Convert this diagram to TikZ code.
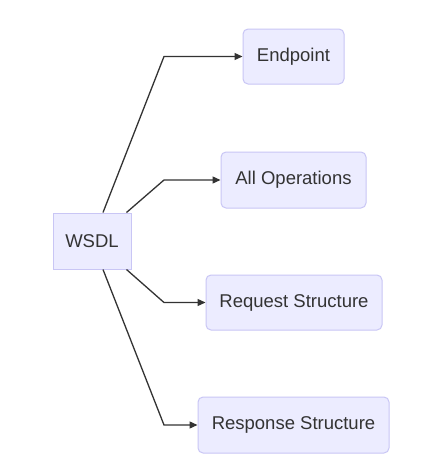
\documentclass[tikz,border=0pt]{standalone}
\usepackage{fontspec}
\setmainfont{Liberation Sans}
\usetikzlibrary{arrows.meta,calc}
\definecolor{boxfill}{HTML}{ECECFF}
\definecolor{boxline}{HTML}{C9C6F5}
\definecolor{ink}{HTML}{333333}
\begin{document}
\begin{tikzpicture}[x=1pt,y=-1pt,
  box/.style={draw=boxline, fill=boxfill, line width=1pt, text=ink,
    font=\fontsize{18.5}{20}\selectfont, inner sep=0pt, anchor=center},
  leaf/.style={box, rounded corners=5pt},
  link/.style={draw=ink, line width=1.3pt,
    -{Triangle[length=8pt,width=7pt]}}]
  \useasboundingbox[fill=white] (0,0) rectangle (440,474);

  \node[box, minimum width=78pt, minimum height=56pt] (wsdl) at (92,241) {WSDL};
  \node[leaf, minimum width=101pt, minimum height=55pt] (ep) at (293.5,56.5) {Endpoint};
  \node[leaf, minimum width=145pt, minimum height=56pt] (ops) at (293.5,180) {All Operations};
  \node[leaf, minimum width=176pt, minimum height=55pt] (req) at (294,302.5) {Request Structure};
  \node[leaf, minimum width=191pt, minimum height=56pt] (resp) at (293.5,425) {Response Structure};

  % column where every connector turns horizontal
  \coordinate (turn) at (164,0);

  \draw[link] ($(wsdl.north)+(11,0)$) -- (turn |- ep.west) -- (ep.west);
  \draw[link] ($(wsdl.north east)+(-5,0)$) -- (turn |- ops.west) -- (ops.west);
  \draw[link] ($(wsdl.south east)+(-5,0)$) -- (turn |- req.west) -- (req.west);
  \draw[link] ($(wsdl.south)+(11,0)$) -- (turn |- resp.west) -- (resp.west);
\end{tikzpicture}
\end{document}
